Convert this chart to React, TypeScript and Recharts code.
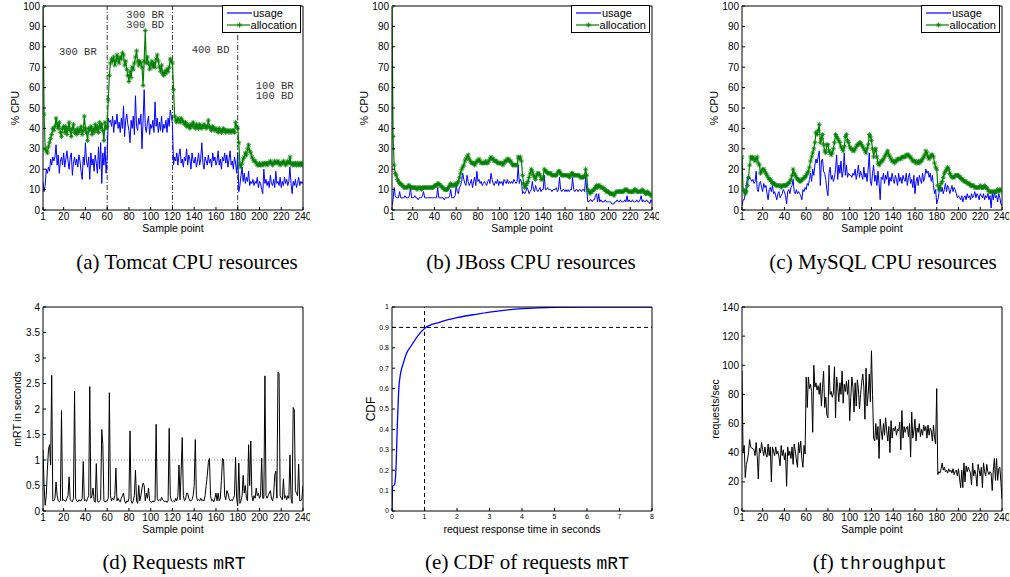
import React from 'react';
import { LineChart, Line, XAxis, YAxis, ReferenceLine, ReferenceDot, Legend } from 'recharts';

const SANS = 'Liberation Sans, Arial, Helvetica, sans-serif';
const SERIF = 'Liberation Serif, Times New Roman, serif';
const MONO = 'Liberation Mono, Courier New, monospace';

const sampleTicks = [1, 20, 40, 60, 80, 100, 120, 140, 160, 180, 200, 220, 240];
const cpuTicks = [0, 10, 20, 30, 40, 50, 60, 70, 80, 90, 100];
const mrtTicks = [0, 0.5, 1, 1.5, 2, 2.5, 3, 3.5, 4];
const cdfXTicks = [0, 1, 2, 3, 4, 5, 6, 7, 8];
const cdfYTicks = [0, 0.1, 0.2, 0.3, 0.4, 0.5, 0.6, 0.7, 0.8, 0.9, 1];
const tputTicks = [0, 20, 40, 60, 80, 100, 120, 140];

// (a) Tomcat
const tomcatUsage = [
  14, 9, 12, 20, 18, 21, 19, 25, 22, 26, 24, 26, 32, 22, 27, 18, 24, 26, 22, 28,
  21, 25, 29, 24, 20, 26, 28, 17, 23, 26, 22, 25, 21, 27, 24, 19, 15, 26, 22, 33,
  24, 21, 26, 15, 28, 22, 25, 19, 27, 23, 18, 31, 20, 33, 13, 28, 22, 31, 18, 26,
  45, 43, 44, 41, 46, 38, 44, 42, 47, 40, 43, 38, 45, 40, 51, 36, 44, 47, 42, 39,
  33, 44, 40, 46, 37, 56, 41, 39, 45, 42, 47, 30, 44, 59, 41, 38, 43, 46, 37, 42,
  40, 44, 38, 53, 41, 45, 38, 43, 39, 46, 38, 42, 40, 44, 38, 45, 41, 49, 46, 42,
  22, 26, 24, 28, 22, 27, 30, 23, 25, 21, 26, 24, 30, 22, 27, 25, 20, 28, 24, 23,
  26, 21, 24, 28, 22, 25, 33, 23, 20, 26, 24, 22, 27, 23, 25, 21, 28, 24, 26, 22,
  24, 29, 22, 25, 20, 26, 24, 28, 23, 27, 21, 25, 29, 22, 24, 20, 26, 23, 18, 28,
  9, 12, 17, 21, 14, 18, 13, 16, 14, 19, 12, 14, 13, 15, 12, 14, 13, 16, 11, 14,
  13, 10, 8, 20, 13, 15, 12, 14, 11, 17, 13, 12, 15, 11, 19, 13, 14, 12, 16, 11,
  14, 12, 16, 13, 15, 12, 14, 21, 13, 8, 14, 12, 15, 11, 13, 16, 12, 14, 13, 14,
];
const tomcatAlloc = [
  100, 47, 30, 29, 28, 31, 33, 35, 37, 40, 39, 41, 45, 42, 40, 43, 38, 36, 40, 41,
  38, 41, 37, 40, 43, 39, 36, 40, 42, 38, 39, 37, 40, 38, 39, 41, 37, 39, 46, 40,
  38, 34, 40, 39, 41, 37, 40, 38, 42, 39, 41, 38, 43, 40, 42, 39, 34, 43, 40, 41,
  54, 66, 72, 74, 73, 75, 71, 73, 76, 74, 72, 75, 74, 77, 76, 71, 73, 69, 66, 63,
  68, 65, 70, 69, 72, 75, 78, 73, 71, 73, 72, 70, 61, 73, 88, 72, 75, 72, 69, 71,
  73, 70, 72, 70, 74, 76, 73, 70, 68, 71, 67, 66, 68, 67, 69, 68, 70, 74, 73, 72,
  59, 46, 44, 43, 45, 44, 43, 45, 44, 43, 42, 43, 41, 42, 41, 40, 42, 41, 43, 41,
  40, 42, 41, 40, 42, 41, 40, 41, 42, 41, 40, 41, 44, 41, 40, 39, 41, 40, 39, 40,
  39, 38, 40, 39, 38, 39, 40, 39, 38, 39, 39, 38, 39, 38, 39, 39, 38, 43, 41, 40,
  33, 22, 21, 23, 25, 26, 28, 27, 30, 32, 29, 28, 26, 25, 24, 24, 23, 22, 22, 23,
  22, 22, 23, 22, 23, 23, 22, 23, 23, 24, 23, 22, 23, 24, 23, 23, 24, 23, 22, 23,
  23, 24, 23, 22, 23, 24, 23, 26, 23, 22, 23, 22, 23, 22, 23, 22, 23, 22, 23, 22,
];

// (b) JBoss
const jbossUsage = [
  2, 5, 11, 7, 6, 6, 6, 9, 6, 6, 6, 6, 7, 6, 6, 6, 7, 11, 6, 6,
  6, 7, 6, 6, 5, 6, 6, 6, 7, 9, 6, 6, 6, 6, 6, 6, 6, 6, 6, 6,
  6, 6, 11, 6, 6, 6, 6, 6, 5, 6, 6, 6, 6, 7, 10, 6, 6, 6, 7, 12,
  9, 8, 11, 12, 14, 18, 15, 13, 12, 17, 14, 12, 13, 15, 11, 14, 16, 12, 19, 14,
  15, 13, 14, 12, 13, 14, 13, 12, 14, 15, 13, 18, 15, 13, 12, 14, 13, 15, 12, 14,
  13, 14, 12, 15, 14, 13, 15, 13, 14, 13, 14, 13, 15, 14, 13, 14, 22, 13, 15, 14,
  8, 9, 8, 9, 11, 10, 8, 9, 10, 14, 10, 9, 12, 10, 9, 10, 11, 9, 10, 10,
  17, 10, 10, 11, 10, 10, 10, 9, 10, 10, 10, 11, 9, 10, 16, 10, 9, 10, 10, 9,
  10, 9, 10, 9, 10, 10, 16, 10, 9, 10, 10, 9, 10, 10, 9, 10, 10, 9, 16, 10,
  4, 4, 5, 5, 4, 5, 5, 7, 8, 4, 8, 4, 5, 4, 4, 4, 5, 4, 4, 4,
  4, 4, 3, 3, 3, 4, 4, 5, 4, 4, 5, 4, 4, 4, 5, 4, 7, 4, 5, 4,
  4, 5, 4, 4, 4, 5, 4, 4, 5, 7, 4, 5, 4, 4, 5, 4, 4, 3, 5, 4,
];
const jbossAlloc = [
  100, 36, 22, 18, 17, 15, 14, 13, 13, 12, 12, 11, 11, 11, 11, 12, 12, 11, 11, 11,
  11, 11, 11, 10, 11, 11, 11, 10, 11, 11, 11, 11, 11, 11, 11, 11, 11, 11, 11, 12,
  12, 12, 13, 13, 12, 12, 11, 11, 10, 10, 10, 10, 11, 12, 13, 12, 12, 12, 13, 12,
  13, 14, 16, 18, 20, 21, 22, 24, 25, 26, 27, 25, 24, 23, 23, 23, 22, 23, 24, 24,
  25, 24, 23, 23, 23, 23, 24, 23, 23, 24, 25, 26, 25, 25, 24, 24, 24, 23, 23, 23,
  23, 23, 22, 23, 24, 24, 25, 25, 24, 24, 23, 22, 22, 22, 22, 22, 26, 25, 26, 24,
  17, 13, 11, 12, 13, 14, 16, 18, 20, 19, 17, 16, 15, 17, 18, 18, 17, 15, 15, 16,
  20, 19, 19, 18, 18, 18, 18, 17, 17, 17, 17, 17, 18, 19, 19, 18, 17, 17, 17, 17,
  17, 17, 17, 16, 17, 18, 18, 17, 17, 17, 17, 17, 17, 16, 16, 16, 16, 17, 20, 17,
  10, 9, 8, 9, 9, 10, 10, 11, 12, 11, 12, 12, 11, 11, 11, 10, 10, 9, 9, 9,
  8, 8, 8, 8, 7, 8, 9, 9, 9, 9, 9, 9, 9, 9, 10, 10, 10, 9, 9, 9,
  9, 9, 9, 10, 10, 9, 9, 9, 9, 9, 10, 9, 9, 8, 8, 9, 8, 8, 7, 7,
];

// (c) MySQL
const mysqlUsage = [
  2, 5, 5, 8, 12, 16, 15, 16, 15, 14, 15, 13, 14, 19, 10, 9, 13, 14, 11, 9,
  13, 11, 12, 8, 5, 10, 11, 9, 12, 8, 9, 7, 5, 8, 9, 6, 7, 8, 10, 9,
  7, 3, 9, 10, 8, 11, 12, 15, 9, 8, 10, 8, 9, 8, 7, 5, 10, 9, 11, 10,
  13, 12, 15, 18, 14, 20, 17, 22, 25, 23, 26, 29, 12, 24, 25, 19, 18, 15, 10, 7,
  18, 21, 15, 17, 14, 16, 20, 27, 15, 22, 18, 24, 16, 19, 28, 17, 22, 16, 18, 17,
  17, 16, 18, 17, 20, 15, 18, 22, 16, 19, 17, 15, 21, 16, 18, 14, 20, 28, 14, 12,
  18, 22, 14, 17, 12, 19, 13, 5, 16, 15, 18, 13, 17, 15, 19, 12, 16, 14, 18, 15,
  13, 17, 15, 12, 18, 14, 16, 13, 17, 15, 14, 18, 12, 16, 18, 13, 15, 11, 17, 8,
  14, 16, 12, 17, 15, 13, 18, 14, 16, 20, 18, 19, 16, 18, 14, 17, 12, 8, 10, 3,
  5, 8, 12, 9, 11, 8, 10, 13, 9, 12, 11, 8, 10, 12, 9, 11, 10, 8, 6, 7,
  6, 5, 7, 4, 6, 7, 5, 8, 6, 7, 5, 8, 6, 7, 9, 6, 8, 7, 5, 8,
  7, 6, 8, 5, 7, 6, 8, 5, 7, 1, 8, 5, 9, 6, 7, 4, 8, 6, 3, 2,
];
const mysqlAlloc = [
  26, 10, 9, 8, 9, 12, 16, 22, 26, 25, 26, 25, 24, 25, 26, 23, 22, 18, 19, 20,
  20, 19, 18, 17, 16, 15, 15, 14, 13, 13, 13, 12, 12, 12, 12, 12, 11, 12, 12, 12,
  12, 12, 13, 13, 14, 15, 17, 20, 18, 17, 16, 15, 15, 14, 14, 15, 15, 16, 16, 17,
  18, 19, 21, 24, 26, 28, 30, 33, 38, 37, 39, 42, 33, 35, 37, 32, 29, 28, 32, 32,
  29, 28, 27, 28, 30, 33, 37, 36, 35, 34, 33, 31, 30, 29, 31, 36, 37, 34, 33, 31,
  30, 30, 29, 29, 30, 31, 32, 32, 33, 33, 32, 31, 30, 29, 28, 30, 32, 37, 36, 34,
  30, 26, 29, 30, 26, 23, 22, 23, 24, 24, 25, 26, 27, 28, 29, 27, 26, 25, 24, 24,
  23, 24, 24, 25, 25, 25, 25, 26, 26, 26, 26, 27, 27, 27, 26, 26, 25, 24, 24, 24,
  23, 23, 24, 23, 24, 24, 25, 26, 27, 29, 28, 26, 25, 26, 27, 27, 26, 23, 21, 20,
  12, 10, 11, 13, 14, 16, 18, 19, 20, 21, 20, 18, 17, 16, 16, 16, 17, 17, 17, 17,
  16, 16, 15, 15, 14, 14, 14, 13, 13, 13, 12, 12, 12, 12, 11, 11, 11, 11, 11, 12,
  11, 11, 11, 12, 11, 11, 10, 9, 9, 9, 9, 9, 9, 9, 9, 10, 9, 10, 10, 9,
];

// (d) mRT in seconds
const mrtValues = [
  1.2, 0.5, 0.11, 0.3, 0.8, 1.2, 1.3, 0.9, 2.66, 0.2, 0.2, 0.25, 0.57, 0.3, 0.2, 0.18, 0.2, 1.97, 0.2, 0.22,
  0.2, 0.19, 0.25, 0.3, 0.67, 0.22, 0.2, 0.18, 0.25, 2.35, 0.25, 0.2, 0.18, 0.22, 0.2, 0.2, 0.25, 0.97, 0.2, 0.22,
  0.19, 0.25, 0.3, 2.44, 0.25, 0.3, 0.45, 0.2, 0.17, 0.93, 0.2, 0.17, 0.2, 0.22, 1.6, 1.3, 0.2, 0.18, 0.19, 0.2,
  0.25, 2.32, 0.3, 0.2, 0.25, 0.22, 0.3, 0.84, 0.2, 0.25, 0.2, 0.18, 0.25, 0.3, 0.35, 0.2, 0.15, 0.2, 0.18, 0.25,
  1.57, 0.2, 0.15, 0.2, 0.3, 0.8, 0.2, 0.15, 0.5, 0.2, 0.3, 0.45, 0.55, 0.5, 0.2, 0.35, 0.25, 0.45, 0.2, 0.18,
  0.17, 0.2, 0.18, 0.2, 1.7, 0.25, 0.2, 0.22, 0.2, 0.27, 0.22, 0.2, 0.18, 0.2, 0.17, 0.2, 1.62, 0.3, 0.2, 0.18,
  0.2, 0.18, 0.25, 0.2, 0.3, 0.9, 0.22, 0.8, 1.44, 0.3, 0.2, 0.22, 0.35, 0.35, 0.25, 0.2, 0.2, 0.22, 0.3, 0.5,
  1.4, 0.3, 0.2, 0.22, 0.2, 0.25, 0.2, 0.22, 0.2, 0.3, 0.5, 0.7, 0.95, 1.03, 0.3, 0.2, 0.22, 0.18, 0.25, 0.35,
  0.2, 0.35, 0.2, 0.25, 0.6, 1.03, 1.0, 0.3, 0.22, 0.4, 0.35, 0.25, 0.2, 0.22, 0.2, 0.25, 0.3, 1.05, 0.25, 0.1,
  0.94, 0.15, 0.2, 0.3, 0.7, 0.35, 0.5, 0.25, 0.2, 1.3, 0.5, 1.37, 0.3, 0.2, 0.3, 0.25, 0.45, 0.3, 0.35, 0.25,
  0.3, 1.04, 0.25, 0.25, 2.65, 0.3, 0.25, 0.3, 0.35, 0.4, 0.25, 0.2, 0.3, 0.7, 0.78, 0.25, 2.72, 2.7, 0.3, 0.25,
  0.22, 0.63, 0.25, 0.3, 0.22, 0.3, 0.25, 1.1, 0.25, 0.15, 2.03, 1.98, 0.4, 0.35, 0.3, 0.92, 0.2, 0.2, 0.25, 0.5,
];

// (e) CDF of request response time
const cdfTime = [0, 0.02, 0.08, 0.12, 0.16, 0.21, 0.27, 0.34, 0.44, 0.59, 0.8, 1.0, 1.46, 2.0, 2.5, 3.0, 3.5, 4.0, 4.5, 5.0, 6.0, 7.0, 8.0];
const cdfValue = [0, 0.12, 0.13, 0.2, 0.4, 0.6, 0.68, 0.72, 0.77, 0.81, 0.86, 0.895, 0.925, 0.948, 0.962, 0.975, 0.985, 0.992, 0.996, 0.998, 0.999, 1.0, 1.0];

// (f) throughput, requests/sec
const throughput = [
  96, 40, 45, 23, 32, 35, 40, 49, 44, 43, 43, 42, 38, 47, 38, 22, 43, 40, 47, 42,
  38, 44, 39, 37, 46, 38, 44, 20, 44, 41, 38, 44, 39, 41, 37, 31, 45, 38, 42, 35,
  40, 17, 44, 38, 41, 36, 44, 32, 46, 41, 35, 30, 47, 40, 48, 36, 30, 45, 39, 92,
  71, 92, 84, 87, 82, 54, 100, 85, 88, 83, 86, 80, 88, 72, 85, 96, 71, 78, 66, 64,
  100, 80, 82, 78, 81, 99, 64, 92, 85, 75, 88, 80, 96, 74, 87, 82, 89, 80, 90, 62,
  78, 92, 85, 68, 88, 72, 90, 84, 70, 80, 88, 94, 85, 63, 98, 72, 80, 94, 75, 110,
  80, 50, 48, 60, 49, 58, 36, 63, 55, 49, 60, 52, 64, 55, 48, 58, 40, 62, 50, 57,
  55, 58, 52, 56, 55, 61, 42, 69, 50, 58, 54, 57, 58, 51, 60, 37, 68, 50, 55, 63,
  48, 57, 54, 60, 51, 56, 52, 59, 55, 58, 50, 59, 52, 57, 55, 48, 59, 50, 46, 84,
  25, 27, 26, 29, 33, 28, 30, 27, 28, 26, 29, 27, 28, 26, 29, 25, 27, 28, 24, 29,
  22, 16, 28, 16, 33, 20, 31, 27, 30, 28, 26, 18, 33, 24, 28, 25, 17, 32, 28, 24,
  30, 16, 33, 27, 24, 32, 27, 25, 27, 26, 14, 28, 36, 21, 36, 21, 29, 30, 20, 8,
];

const cpuRows = (usage: number[], alloc: number[]) =>
  usage.map((u, i) => ({ s: i + 1, usage: u, allocation: alloc[i] }));
const tomcatRows = cpuRows(tomcatUsage, tomcatAlloc);
const jbossRows = cpuRows(jbossUsage, jbossAlloc);
const mysqlRows = cpuRows(mysqlUsage, mysqlAlloc);
const mrtRows = mrtValues.map((v, i) => ({ s: i + 1, v }));
const tputRows = throughput.map((v, i) => ({ s: i + 1, v }));
const cdfRows = cdfTime.map((t, i) => ({ t, p: cdfValue[i] }));

const W = 310;
const H = 240;
const MARGIN = { top: 5, right: 6, left: 0, bottom: 0 };
const legendOrder = ['usage', 'allocation'];

const starPath = (cx: number, cy: number, r: number) => {
  const d = r * 0.72;
  return `M${cx - r},${cy}H${cx + r}M${cx},${cy - r}V${cy + r}M${cx - d},${cy - d}L${cx + d},${cy + d}M${cx - d},${cy + d}L${cx + d},${cy - d}`;
};

const StarDot = (props: any) => {
  const { cx, cy, index } = props;
  if (cx == null || cy == null) return <g key={`d${index}`} />;
  return <path key={`d${index}`} d={starPath(cx, cy, 2.4)} stroke="#008000" strokeWidth={0.8} fill="none" />;
};

const CpuLegend = ({ payload }: any) => {
  const items = [...(payload || [])].sort((a: any, b: any) => legendOrder.indexOf(a.value) - legendOrder.indexOf(b.value));
  return (
    <div
      style={{
        border: '1px solid #000',
        background: '#fff',
        padding: '1px 3px 1px 4px',
        fontFamily: SANS,
        fontSize: 11,
        lineHeight: '12px',
        color: '#000',
        width: 70,
      }}
    >
      {items.map((p: any) => (
        <div key={p.value} style={{ display: 'flex', alignItems: 'center', height: 12 }}>
          <svg width={25} height={12} style={{ display: 'block' }}>
            <line x1={0} y1={6} x2={25} y2={6} stroke={p.color} strokeWidth={1.2} />
            {p.value === 'allocation' && <path d={starPath(12.5, 6, 2.6)} stroke={p.color} strokeWidth={0.8} fill="none" />}
          </svg>
          <span style={{ marginLeft: 1 }}>{p.value}</span>
        </div>
      ))}
    </div>
  );
};

type FrameOpts = {
  xKey: string;
  xDomain: [number, number];
  xTicks: number[];
  yDomain: [number, number];
  yTicks: number[];
  xLabel: string;
  yLabel: string;
  yLabelOffset: number;
  tickFont?: number;
  xLabelFont?: number;
  yLabelFont?: number;
};

function frameAxes(o: FrameOpts) {
  const tick = { fontFamily: SANS, fontSize: o.tickFont ?? 10, fill: '#000' };
  const common = { type: 'number' as const, allowDataOverflow: true, stroke: '#000', tickSize: -3, interval: 0 as const };
  return [
    <XAxis
      key="xb"
      {...common}
      dataKey={o.xKey}
      domain={o.xDomain}
      ticks={o.xTicks}
      height={30}
      tickMargin={6}
      tick={tick}
      label={{ value: o.xLabel, position: 'insideBottom', offset: 8, style: { fontFamily: SANS, fontSize: o.xLabelFont ?? 10.5, fill: '#000' } }}
    />,
    <XAxis key="xt" xAxisId="t" orientation="top" {...common} domain={o.xDomain} ticks={o.xTicks} height={1} tick={false} />,
    <YAxis
      key="yl"
      {...common}
      domain={o.yDomain}
      ticks={o.yTicks}
      width={43}
      tickMargin={6}
      tick={tick}
      label={{
        value: o.yLabel,
        angle: -90,
        position: 'insideLeft',
        offset: o.yLabelOffset,
        style: { textAnchor: 'middle', fontFamily: SANS, fontSize: o.yLabelFont ?? 10.5, fill: '#000' },
      }}
    />,
    <YAxis key="yr" yAxisId="r" orientation="right" {...common} domain={o.yDomain} ticks={o.yTicks} width={1} tick={false} />,
  ];
}

const noteStyle = { fill: '#333', fontFamily: MONO, fontSize: 10.5 };

function CpuPanel({ rows, left, top, extras }: { rows: any[]; left: number; top: number; extras?: React.ReactNode }) {
  return (
    <div style={{ position: 'absolute', left, top, width: W, height: H }}>
      <LineChart width={W} height={H} data={rows} margin={MARGIN}>
        {frameAxes({
          xKey: 's',
          xDomain: [1, 240],
          xTicks: sampleTicks,
          yDomain: [0, 100],
          yTicks: cpuTicks,
          xLabel: 'Sample point',
          yLabel: '% CPU',
          yLabelOffset: 15,
        })}
        {extras}
        <Line dataKey="usage" name="usage" type="linear" stroke="#0000ff" strokeWidth={1} dot={false} activeDot={false} isAnimationActive={false} />
        <Line dataKey="allocation" name="allocation" type="linear" stroke="#008000" strokeWidth={1.2} dot={StarDot} activeDot={false} isAnimationActive={false} />
        <Legend
          layout="horizontal"
          verticalAlign="middle"
          align="center"
          content={CpuLegend}
          wrapperStyle={{ left: 222, top: 5, width: 80, height: 29 }}
        />
      </LineChart>
    </div>
  );
}

const captionStyle: React.CSSProperties = {
  position: 'absolute',
  width: 400,
  textAlign: 'center',
  fontFamily: SERIF,
  fontSize: 21,
  lineHeight: '24px',
  color: '#000',
  whiteSpace: 'nowrap',
};
const tt: React.CSSProperties = { fontFamily: MONO, fontSize: 18 };

export default function App() {
  const tomcatExtras = [
    <ReferenceLine key="v60" x={60} stroke="#333" strokeDasharray="5 2 1 2" />,
    <ReferenceLine key="v120" x={120} stroke="#333" strokeDasharray="5 2 1 2" />,
    <ReferenceLine key="v180" x={180} stroke="#333" strokeDasharray="5 2 1 2" />,
    <ReferenceDot key="n1" x={33} y={78} r={0} fill="none" stroke="none" label={{ value: '300 BR', position: 'center', style: noteStyle }} />,
    <ReferenceDot key="n2" x={95} y={96} r={0} fill="none" stroke="none" label={{ value: '300 BR', position: 'center', style: noteStyle }} />,
    <ReferenceDot key="n3" x={95} y={91} r={0} fill="none" stroke="none" label={{ value: '300 BD', position: 'center', style: noteStyle }} />,
    <ReferenceDot key="n4" x={155} y={79} r={0} fill="none" stroke="none" label={{ value: '400 BD', position: 'center', style: noteStyle }} />,
    <ReferenceDot key="n5" x={214} y={61} r={0} fill="none" stroke="none" label={{ value: '100 BR', position: 'center', style: noteStyle }} />,
    <ReferenceDot key="n6" x={214} y={56} r={0} fill="none" stroke="none" label={{ value: '100 BD', position: 'center', style: noteStyle }} />,
  ];

  return (
    <div style={{ position: 'absolute', left: 0, top: 0, width: 1010, height: 577, background: '#fff', overflow: 'hidden' }}>
      <CpuPanel rows={tomcatRows} left={0} top={0} extras={tomcatExtras} />
      <CpuPanel rows={jbossRows} left={349} top={0} />
      <CpuPanel rows={mysqlRows} left={699} top={0} />

      <div style={{ position: 'absolute', left: 0, top: 301, width: W, height: H }}>
        <LineChart width={W} height={H} data={mrtRows} margin={MARGIN}>
          {frameAxes({
            xKey: 's',
            xDomain: [1, 240],
            xTicks: sampleTicks,
            yDomain: [0, 4],
            yTicks: mrtTicks,
            xLabel: 'Sample point',
            yLabel: 'mRT in seconds',
            yLabelOffset: 17,
          })}
          <ReferenceLine y={1} stroke="#888" strokeDasharray="1 2" />
          <Line dataKey="v" type="linear" stroke="#000" strokeWidth={1} dot={false} activeDot={false} isAnimationActive={false} />
        </LineChart>
      </div>

      <div style={{ position: 'absolute', left: 349, top: 301, width: W, height: H }}>
        <LineChart width={W} height={H} data={cdfRows} margin={MARGIN}>
          {frameAxes({
            xKey: 't',
            xDomain: [0, 8],
            xTicks: cdfXTicks,
            yDomain: [0, 1],
            yTicks: cdfYTicks,
            xLabel: 'request response time in seconds',
            yLabel: 'CDF',
            yLabelOffset: 22,
            tickFont: 7,
            yLabelFont: 12,
          })}
          <ReferenceLine y={0.9} stroke="#000" strokeDasharray="4 3" />
          <ReferenceLine x={1} stroke="#000" strokeDasharray="4 3" />
          <Line dataKey="p" type="monotone" stroke="#0000ff" strokeWidth={1.3} dot={false} activeDot={false} isAnimationActive={false} />
        </LineChart>
      </div>

      <div style={{ position: 'absolute', left: 699, top: 301, width: W, height: H }}>
        <LineChart width={W} height={H} data={tputRows} margin={MARGIN}>
          {frameAxes({
            xKey: 's',
            xDomain: [1, 240],
            xTicks: sampleTicks,
            yDomain: [0, 140],
            yTicks: tputTicks,
            xLabel: 'Sample point',
            yLabel: 'requests/sec',
            yLabelOffset: 16,
          })}
          <Line dataKey="v" type="linear" stroke="#000" strokeWidth={1} dot={false} activeDot={false} isAnimationActive={false} />
        </LineChart>
      </div>

      <div style={{ ...captionStyle, left: 187 - 200, top: 250 }}>(a) Tomcat CPU resources</div>
      <div style={{ ...captionStyle, left: 531 - 200, top: 250 }}>(b) JBoss CPU resources</div>
      <div style={{ ...captionStyle, left: 883 - 200, top: 250 }}>(c) MySQL CPU resources</div>
      <div style={{ ...captionStyle, left: 174 - 200, top: 550 }}>
        (d) Requests <span style={tt}>mRT</span>
      </div>
      <div style={{ ...captionStyle, left: 527 - 200, top: 550 }}>
        (e) CDF of requests <span style={tt}>mRT</span>
      </div>
      <div style={{ ...captionStyle, left: 880 - 200, top: 550 }}>
        (f) <span style={tt}>throughput</span>
      </div>
    </div>
  );
}
